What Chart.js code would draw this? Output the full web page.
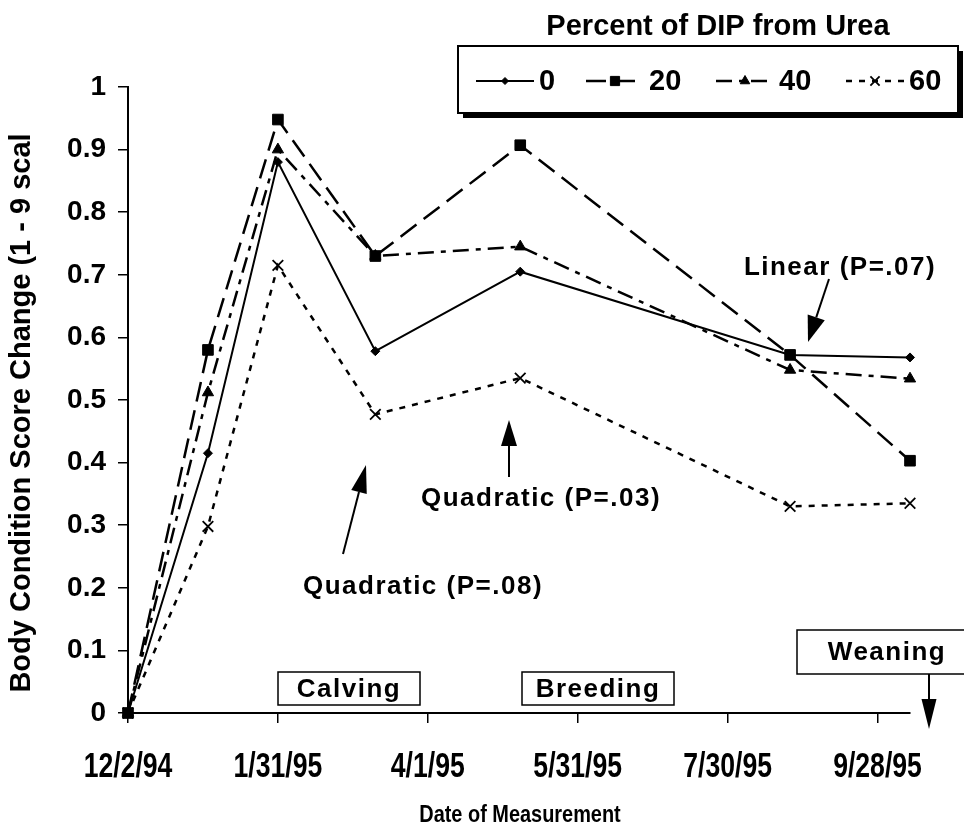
<!DOCTYPE html>
<html>
<head>
<meta charset="utf-8">
<script src="https://cdn.jsdelivr.net/npm/chart.js@4.4.1/dist/chart.umd.min.js"></script>
<style>
  html, body { margin: 0; padding: 0; background: #fff; }
  #wrap { width: 964px; height: 832px; }
</style>
</head>
<body>
<div id="wrap"><canvas id="chart" width="964" height="832"></canvas></div>
<script>
// days after 12/2/94 for each measurement
var measureDays = [0, 32, 60, 99, 157, 265, 313];
var seriesNames = ["0", "20", "40", "60"];
var dip0 = [0, 0.415, 0.88, 0.578, 0.705, 0.572, 0.568];
var dip20 = [0, 0.58, 0.948, 0.73, 0.907, 0.572, 0.403];
var dip40 = [0, 0.512, 0.9, 0.73, 0.745, 0.548, 0.534];
var dip60 = [0, 0.298, 0.715, 0.477, 0.535, 0.33, 0.335];
var xTickLabels = ["12/2/94", "1/31/95", "4/1/95", "5/31/95", "7/30/95", "9/28/95"];

var FONT = "'Liberation Sans', Arial, sans-serif";

function pts(vals) {
  return vals.map(function(v, i) { return { x: measureDays[i], y: v }; });
}

var styles = [
  { dash: [], width: 2, pointStyle: "rectRot", radius: 4.5 },
  { dash: [20, 9], width: 2.5, pointStyle: "rect", radius: 7.5 },
  { dash: [16, 7, 5, 7], width: 2.5, pointStyle: "triangle", radius: 6.5 },
  { dash: [6, 7], width: 2.5, pointStyle: "crossRot", radius: 7.5 }
];
var allSeries = [dip0, dip20, dip40, dip60];

var datasets = allSeries.map(function(vals, i) {
  var s = styles[i];
  return {
    label: seriesNames[i],
    data: pts(vals),
    borderColor: "#000",
    backgroundColor: "#000",
    borderWidth: s.width,
    borderDash: s.dash,
    pointStyle: s.pointStyle,
    pointRadius: s.radius,
    pointBorderWidth: i == 3 ? 1.8 : 1,
    pointBackgroundColor: "#000",
    pointBorderColor: "#000",
    tension: 0,
    fill: false,
    clip: false
  };
});

function arrow(ctx, x1, y1, x2, y2, headLen, headW) {
  var a = Math.atan2(y2 - y1, x2 - x1);
  var bx = x2 - headLen * Math.cos(a), by = y2 - headLen * Math.sin(a);
  ctx.beginPath();
  ctx.moveTo(x1, y1);
  ctx.lineTo(bx, by);
  ctx.stroke();
  ctx.beginPath();
  ctx.moveTo(x2, y2);
  ctx.lineTo(bx + headW / 2 * Math.sin(a), by - headW / 2 * Math.cos(a));
  ctx.lineTo(bx - headW / 2 * Math.sin(a), by + headW / 2 * Math.cos(a));
  ctx.closePath();
  ctx.fill();
}

function boxText(ctx, x, y, w, h, text) {
  ctx.fillStyle = "#fff";
  ctx.fillRect(x, y, w, h);
  ctx.strokeStyle = "#000";
  ctx.lineWidth = 1.5;
  ctx.strokeRect(x, y, w, h);
  ctx.fillStyle = "#000";
  ctx.fillText(text, x + w / 2, y + h / 2 + 1);
}

// draw text squeezed sideways, like a narrow face
function narrowText(ctx, text, x, y, sx) {
  ctx.save();
  ctx.translate(x, y);
  ctx.scale(sx, 1);
  ctx.fillText(text, 0, 0);
  ctx.restore();
}

var extras = {
  id: "extras",
  afterDraw: function(chart) {
    var ctx = chart.ctx;
    ctx.save();
    ctx.fillStyle = "#000";
    ctx.strokeStyle = "#000";
    ctx.textBaseline = "middle";
    ctx.textAlign = "center";

    // x tick labels, through the x scale
    var xs = chart.scales.x;
    ctx.font = "bold 35px " + FONT;
    xs.ticks.forEach(function(t) {
      var lab = xTickLabels[Math.round(t.value / 60)];
      if (lab) narrowText(ctx, lab, xs.getPixelForValue(t.value), 767, 0.76);
    });

    // legend title and box
    ctx.font = "bold 29px " + FONT;
    ctx.fillText("Percent of DIP from Urea", 718, 27);
    ctx.fillRect(463, 51, 500, 67);
    ctx.fillStyle = "#fff";
    ctx.fillRect(458, 46, 500, 67);
    ctx.lineWidth = 2;
    ctx.strokeRect(458, 46, 500, 67);

    var legX = [476, 586, 716, 846];
    for (var i = 0; i < 4; i++) {
      var s = styles[i];
      var ly = 81;
      ctx.strokeStyle = "#000";
      ctx.fillStyle = "#000";
      ctx.lineWidth = s.width;
      ctx.setLineDash(s.dash);
      ctx.beginPath();
      ctx.moveTo(legX[i], ly);
      ctx.lineTo(legX[i] + 58, ly);
      ctx.stroke();
      ctx.setLineDash([]);
      ctx.lineWidth = i == 3 ? 1.8 : 1;
      Chart.helpers.drawPoint(ctx, { pointStyle: s.pointStyle, radius: s.radius - 1, rotation: 0, borderWidth: 1 }, legX[i] + 29, ly);
      ctx.textAlign = "left";
      ctx.font = "bold 29px " + FONT;
      ctx.fillText(seriesNames[i], legX[i] + 63, ly + 1);
    }

    // axis titles
    ctx.textAlign = "center";
    ctx.font = "bold 24px " + FONT;
    narrowText(ctx, "Date of Measurement", 520, 815, 0.83);
    ctx.save();
    ctx.translate(22, 413);
    ctx.rotate(-Math.PI / 2);
    ctx.font = "bold 29px " + FONT;
    narrowText(ctx, "Body Condition Score Change (1 - 9 scal", 0, 0, 1);
    ctx.restore();

    // annotations
    ctx.font = "bold 26px " + FONT;
    ctx.letterSpacing = "1.5px";
    ctx.textAlign = "center";
    ctx.fillText("Linear (P=.07)", 840, 268);
    ctx.fillText("Quadratic (P=.03)", 541, 499);
    ctx.fillText("Quadratic (P=.08)", 423, 587);

    ctx.lineWidth = 2;
    arrow(ctx, 829, 279, 808, 342, 26, 18);
    arrow(ctx, 509, 477, 509, 420, 26, 16);
    arrow(ctx, 343, 554, 366, 465, 28, 16);

    boxText(ctx, 278, 672, 142, 33, "Calving");
    boxText(ctx, 522, 672, 152, 33, "Breeding");
    boxText(ctx, 797, 630, 180, 44, "Weaning");
    ctx.lineWidth = 2;
    arrow(ctx, 929, 674, 929, 729, 30, 15);
    ctx.restore();
  }
};

var ctx = document.getElementById("chart");
var myChart = new Chart(ctx, {
  type: "line",
  data: { datasets: datasets },
  options: {
    responsive: false,
    animation: false,
    devicePixelRatio: 1,
    layout: { padding: { top: 87, right: 54, left: 0, bottom: 0 } },
    plugins: { legend: { display: false }, tooltip: { enabled: false } },
    scales: {
      x: {
        type: "linear",
        min: 0,
        max: 313,
        afterFit: function(scale) { scale.height = 119; },
        ticks: {
          stepSize: 60,
          includeBounds: false,
          autoSkip: false,
          maxRotation: 0,
          padding: 18,
          color: "rgba(0,0,0,0)",
          font: { family: FONT, size: 26, weight: "bold" },
          callback: function(v) { return xTickLabels[Math.round(v / 60)]; }
        },
        grid: { drawOnChartArea: false, drawTicks: true, tickLength: 10, color: "#000", lineWidth: 1.5 },
        border: { display: true, color: "#000", width: 2 }
      },
      y: {
        min: 0,
        max: 1,
        afterFit: function(scale) { scale.width = 128; },
        ticks: {
          stepSize: 0.1,
          padding: 12,
          color: "#000",
          font: { family: FONT, size: 28, weight: "bold" },
          callback: function(v) { return String(+v.toFixed(1)); }
        },
        grid: { drawOnChartArea: false, drawTicks: true, tickLength: 10, color: "#000", lineWidth: 1.5 },
        border: { display: true, color: "#000", width: 2 }
      }
    }
  },
  plugins: [extras]
});
</script>
</body>
</html>
